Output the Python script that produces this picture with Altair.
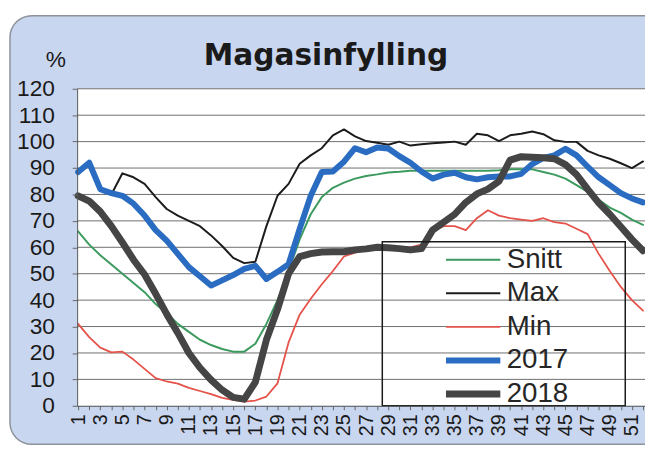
import altair as alt
import pandas as pd

# ---- data ----
weeks = list(range(1, 53))
snitt = [66, 61, 57, 53.5, 50, 46.5, 43, 38.5, 35, 31, 28, 25, 23, 21.5, 20.5, 20.5,
         23.5, 31, 40, 51, 63, 72.5, 79, 82.5, 84.5, 86, 87, 87.6, 88.3, 88.6, 89, 89,
         89, 89, 89, 89, 89, 89, 89.2, 89.5, 89.5, 89.5, 88.5, 87.5, 86, 83.5, 81, 78,
         75, 73, 70.5, 68.5]
maks = [None, None, None, 80, 88, 86.5, 84, 79, 74.5, 72, 70, 68, 64.5, 60.5, 56, 54,
        54.5, 68, 79.5, 84, 91.6, 94.8, 97.5, 102.4, 104.6, 102, 100.2, 99.6, 98.8, 100,
        98.5, 99, 99.4, 99.7, 100, 98.8, 103, 102.4, 100.2, 102.4, 103, 103.8, 102.8,
        100.5, 99.9, 99.9, 96.5, 94.8, 93.5, 91.8, 90, 92.5]
mini = [31, 26, 22, 20.2, 20.5, 17.5, 14, 10.5, 9.2, 8.4, 6.8, 5.6, 4.4, 3, 2.2, 1.6,
        2, 3.5, 8.5, 24, 34.5, 40.5, 46, 51, 56.5, 58, 59, 59.5, 60, 60, 60, 61, 66, 68,
        68, 66.5, 71, 74, 72, 71, 70.5, 70, 71, 69.5, 69, 67, 65, 57.5, 51, 45, 40, 36]
y2017 = [88.5, 92, 82, 80.5, 79.5, 76.5, 72, 66.5, 62.5, 57.5, 52.5, 49, 45.5, 47.5,
         49.5, 51.8, 53, 48, 50.7, 53.6, 67, 79.5, 88.5, 88.7, 92.4, 97.5, 96, 97.8,
         97.4, 94.5, 92, 88.7, 86, 87.5, 88.2, 86.5, 85.7, 86.5, 86.8, 86.8, 87.8, 91.5,
         93.8, 94.8, 97.3, 94.8, 90.5, 86.5, 83.5, 80.5, 78.5, 77]
y2018 = [79.5, 77.5, 73.5, 68, 61.8, 55.3, 49.7, 42.4, 34.7, 27.6, 20, 14.4, 9.8, 6,
         3.2, 2.5, 9, 25, 36.5, 50, 56.5, 57.6, 58.2, 58.3, 58.3, 59, 59.4, 60, 59.8,
         59.5, 59, 59.5, 66.5, 69.5, 72.5, 77, 80.2, 82, 85, 93, 94.3, 94.1, 93.9, 93.5,
         91.3, 87.5, 82, 76.8, 72.5, 67.8, 63, 58.7]

series_names = ["Snitt", "Max", "Min", "2017", "2018"]
series_values = [snitt, maks, mini, y2017, y2018]
series_colors = ["#3d9a5f", "#1c1c1c", "#e5524a", "#2a6cc2", "#454545"]
series_widths = [2, 2, 1.8, 6, 7]

y_ticks = list(range(0, 130, 10))

rows = []
for name, vals in zip(series_names, series_values):
    for w, v in zip(weeks, vals):
        if v is not None:
            rows.append({"uke": w, "verdi": v, "serie": name})
df = pd.DataFrame(rows)

# ---- layout ----
W, H = 575, 321
FONT = "Liberation Sans"

x_scale = alt.Scale(domain=[0.91, 52.18], nice=False, zero=False)
y_scale = alt.Scale(domain=[0, 120], nice=False)

y_axis = alt.Axis(
    values=y_ticks, title="%", titleAngle=0, titleX=-22, titleY=-30,
    titleAlign="center", titleBaseline="middle", titleFontSize=23,
    titleFontWeight="normal", titleFont=FONT, titleColor="#1a1a1a",
    labelFontSize=23, labelFont=FONT, labelColor="#1a1a1a", labelPadding=18,
    tickSize=5, tickColor="#666", domainColor="#555", grid=False, zindex=1,
    labelBound=False, labelFlush=False, labelOverlap=False)

one = alt.Data(values=[{"a": 1}])

panel = alt.Chart(one).mark_rect(
    fill="#c9d6ef", stroke="#8d929b", strokeWidth=1.5, cornerRadius=22
).encode(x=alt.value(-68), x2=alt.value(W + 40), y=alt.value(-74), y2=alt.value(360))

plotbg = alt.Chart(one).mark_rect(fill="white").encode(
    x=alt.value(0), x2=alt.value(W), y=alt.value(0), y2=alt.value(H)
)

title = alt.Chart(one).mark_text(
    font="DejaVu Sans", fontSize=30, fontWeight="bold", align="center",
    baseline="alphabetic", color="#1a1a1a"
).encode(x=alt.value(252), y=alt.value(-24), text=alt.value("Magasinfylling"))

grid = alt.Chart(pd.DataFrame({"verdi": y_ticks[1:]})).mark_rule(
    color="#6f6f6f", strokeWidth=1
).encode(y=alt.Y("verdi:Q", scale=y_scale, axis=y_axis))

legend = alt.Legend(
    title=None, orient="none", legendX=370, legendY=156.5, symbolType="stroke",
    symbolSize=3025, labelFontSize=28, labelFont=FONT, labelColor="#262626",
    labelOffset=3, rowPadding=0, padding=0, clipHeight=33.2,
)

lines = alt.Chart(df).mark_line(strokeJoin="round", strokeCap="round").encode(
    x=alt.X("uke:Q", scale=x_scale, axis=alt.Axis(
        values=weeks, labelExpr="datum.value % 2 == 1 ? datum.label : ''",
        labelAngle=270, labelFontSize=20, labelFont=FONT, labelColor="#1a1a1a",
        labelPadding=4, tickSize=4, tickColor="#666", domainColor="#555",
        grid=False, title=None, zindex=1, labelOverlap=False, labelFlush=False,
        labelBound=False)),
    y=alt.Y("verdi:Q", scale=y_scale, axis=y_axis),
    color=alt.Color("serie:N", scale=alt.Scale(domain=series_names, range=series_colors),
                    legend=legend, sort=series_names),
    strokeWidth=alt.StrokeWidth("serie:N", scale=alt.Scale(
        type="ordinal", domain=series_names, range=series_widths),
        legend=legend, sort=series_names),
    detail="serie:N",
)

legbox = alt.Chart(one).mark_rect(filled=False, stroke="#1a1a1a", strokeWidth=1.5).encode(
    x=alt.value(309), x2=alt.value(555), y=alt.value(155), y2=alt.value(H)
)

chart = alt.layer(panel, plotbg, title, grid, lines, legbox).properties(
    width=W, height=H,
    padding={"left": 70, "top": 79, "right": 0, "bottom": 45},
    autosize=alt.AutoSizeParams(type="none"),
).configure_view(stroke=None)

chart.save("out.html", embed_options={"renderer": "svg", "actions": False})
